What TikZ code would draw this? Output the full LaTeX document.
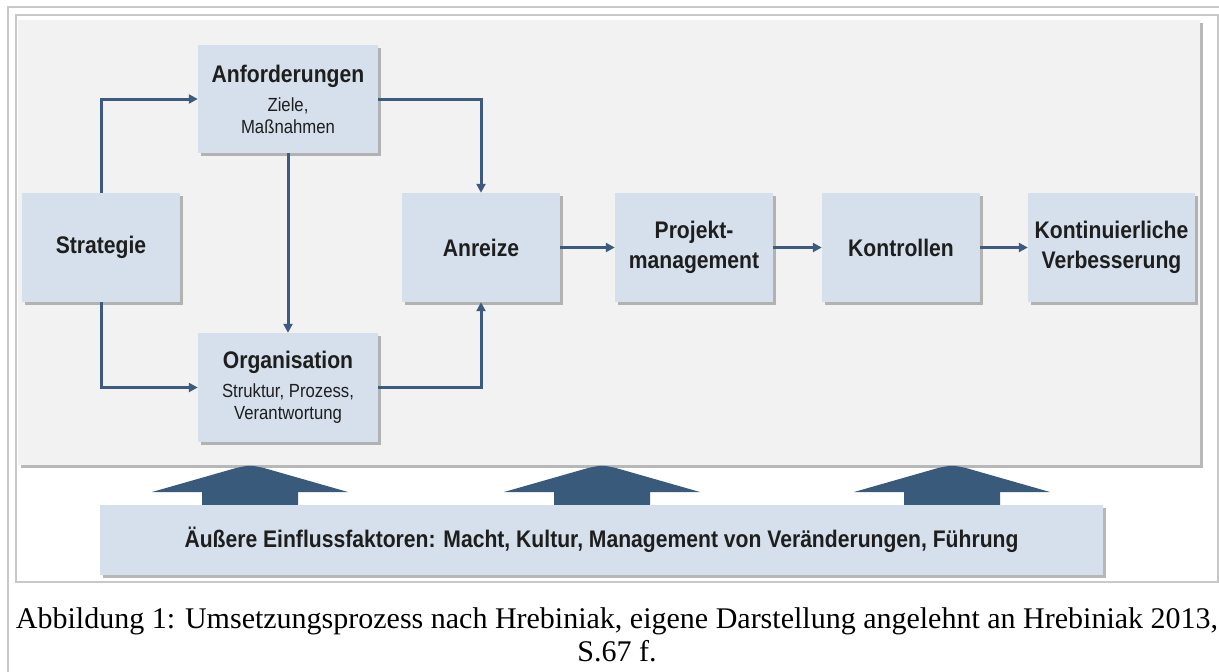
\documentclass[tikz,border=0pt]{standalone}
\usepackage{fontspec}
\setmainfont{Liberation Sans}
\newfontfamily\dsans[FakeStretch=0.88]{Liberation Sans}
\newfontfamily\capfont{Liberation Serif}
\usetikzlibrary{shadows,arrows.meta}
\definecolor{boxblue}{HTML}{D5E0EC}
\definecolor{panelgray}{HTML}{F2F2F2}
\definecolor{conncol}{HTML}{3D5B7E}
\definecolor{bigarrow}{HTML}{3A5A7C}
\definecolor{txt}{HTML}{1E1E1E}
\definecolor{framegray}{HTML}{C8C8C8}
\begin{document}
\begin{tikzpicture}[x=1pt,y=-1pt,
  box/.style={fill=boxblue, inner sep=0pt, align=center, text=txt,
    drop shadow={shadow xshift=2.5pt,shadow yshift=-2.5pt,opacity=0.5,fill=black!55}},
  titlefont/.style={font=\dsans\bfseries\fontsize{24}{30}\selectfont},
  subfont/.style={font=\dsans\fontsize{19}{22}\selectfont},
  conn/.style={draw=conncol, line width=3pt, -{Triangle[length=9pt,width=9pt]}},
  bigarr/.style={fill=bigarrow},
  frameline/.style={draw=framegray, line width=1.6pt},
  capfnt/.style={font=\capfont\fontsize{30}{34}\selectfont, anchor=base, inner sep=0pt, text=black},
]
\useasboundingbox (0,0) rectangle (1219,672);
\fill[white] (0,0) rectangle (1219,672);
% frames
\draw[frameline, line width=2pt] (8,672) -- (8,7) -- (1219,7);
\draw[frameline] (16,15) rectangle (1218,582);
% panel
\path[fill=panelgray, drop shadow={shadow xshift=2.5pt,shadow yshift=-2.5pt,opacity=0.5,fill=black!55}] (18,20) rectangle (1200,465);
% big arrows
\foreach \c in {250,602,952} {
  \fill[bigarr] (\c-98,492) -- (\c-14,468) .. controls (\c,465) .. (\c+14,468) -- (\c+98,492)
     -- (\c+48,492) -- (\c+48,505) -- (\c-48,505) -- (\c-48,492) -- cycle;
}
% bottom box
\node[box, titlefont, minimum width=1003pt, minimum height=70pt] (ext) at (601.5,540)
  {Äußere Einflussfaktoren: Macht, Kultur, Management von Veränderungen, Führung};
% boxes
\node[box, subfont, minimum width=180pt, minimum height=108pt] (anf) at (288,99)
  {{\bfseries\fontsize{24}{24}\selectfont Anforderungen}\\[7pt] Ziele,\\ Maßnahmen};
\node[box, titlefont, minimum width=158pt, minimum height=109pt] (str) at (101,247.5) {Strategie};
\node[box, subfont, minimum width=180pt, minimum height=109pt] (org) at (288,387.5)
  {{\bfseries\fontsize{24}{24}\selectfont Organisation}\\[7pt] Struktur, Prozess,\\ Verantwortung};
\node[box, titlefont, minimum width=158pt, minimum height=109pt] (anr) at (481,247.5) {Anreize};
\node[box, titlefont, minimum width=158pt, minimum height=109pt] (pro) at (694,247.5) {Projekt-\\management};
\node[box, titlefont, minimum width=158pt, minimum height=109pt] (kon) at (901,247.5) {Kontrollen};
\node[box, titlefont, minimum width=167pt, minimum height=109pt] (kvb) at (1111.5,247.5) {Kontinuierliche\\Verbesserung};
% connectors
\draw[conn] (str.north) |- (anf.west);
\draw[conn] (str.south) |- (org.west);
\draw[conn] (anf.south) -- (org.north);
\draw[conn] (anf.east) -| (anr.north);
\draw[conn] (org.east) -| (anr.south);
\draw[conn] (anr) -- (pro);
\draw[conn] (pro) -- (kon);
\draw[conn] (kon) -- (kvb);
% caption
\node[capfnt] (cap1) at (617,628) {Abbildung 1: Umsetzungsprozess nach Hrebiniak, eigene Darstellung angelehnt an Hrebiniak 2013,};
\node[capfnt] (cap2) at (617,661) {S.67 f.};
\end{tikzpicture}
\end{document}
